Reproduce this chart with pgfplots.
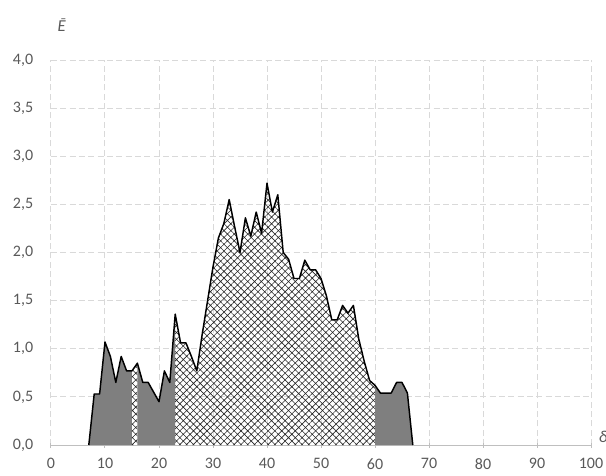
\documentclass[border=0pt]{standalone}
\usepackage{pgfplots}
\pgfplotsset{compat=1.18}
\usepackage{pgfplotstable}
\usepackage{fontspec}
\setmainfont{Carlito}
\usetikzlibrary{patterns.meta}
\definecolor{gridc}{HTML}{D9D9D9}
\definecolor{axisc}{HTML}{BFBFBF}
\definecolor{txt}{HTML}{595959}
\definecolor{fillg}{HTML}{7F7F7F}

\pgfplotstableread{
x y
7 0
8 0.53
9 0.53
10 1.07
11 0.92
12 0.65
13 0.92
14 0.77
15 0.77
16 0.85
17 0.65
18 0.65
19 0.55
20 0.45
21 0.77
22 0.65
23 1.36
24 1.06
25 1.06
26 0.92
27 0.77
28 1.15
29 1.5
30 1.85
31 2.15
32 2.3
33 2.55
34 2.27
35 2.0
36 2.36
37 2.17
38 2.42
39 2.2
40 2.72
41 2.42
42 2.6
43 2.0
44 1.93
45 1.73
46 1.73
47 1.92
48 1.82
49 1.82
50 1.73
51 1.55
52 1.3
53 1.3
54 1.45
55 1.37
56 1.45
57 1.1
58 0.87
59 0.67
60 0.62
61 0.54
62 0.54
63 0.54
64 0.65
65 0.65
66 0.54
67 0
}\data

\begin{document}
\begin{tikzpicture}
\useasboundingbox (-38.25pt,-22.5pt) rectangle (416.25pt,333.75pt);
\begin{axis}[
  scale only axis,
  width=405pt, height=288.75pt,
  xmin=0, xmax=100, ymin=0, ymax=4,
  xtick={0,10,...,100},
  ytick={0,0.5,...,4},
  axis x line=bottom, axis y line=left,
  x axis line style={axisc, -, line width=0.75pt},
  y axis line style={draw=none},
  grid=major,
  major grid style={gridc, dash pattern=on 4.5pt off 2.5pt, line width=0.75pt},
  x tick style={axisc, line width=0.75pt},
  y tick style={draw=none},
  tick align=center,
  major tick length=3.75pt,
  /pgf/number format/assume math mode=true,
  ticklabel style={font=\fontsize{12}{14}\selectfont, text=txt},
  y tick label style={/pgf/number format/use comma, /pgf/number format/fixed, /pgf/number format/fixed zerofill, /pgf/number format/precision=1, xshift=-8pt},
  x tick label style={yshift=-4.5pt},
  clip=false,
]
\addplot[fill=fillg, draw=none, restrict x to domain=7:15] table {\data} \closedcycle;
\addplot[pattern={Hatch[angle=45,distance=3.6pt,line width=0.45pt]}, pattern color=black!85, draw=none, restrict x to domain=15:16] table {\data} \closedcycle;
\addplot[fill=fillg, draw=none, restrict x to domain=16:23] table {\data} \closedcycle;
\addplot[pattern={Hatch[angle=45,distance=3.6pt,line width=0.45pt]}, pattern color=black!85, draw=none, restrict x to domain=23:60] table {\data} \closedcycle;
\addplot[fill=fillg, draw=none, restrict x to domain=60:67] table {\data} \closedcycle;
\addplot[black, line width=1.1pt, line join=round] table {\data};
\node[text=txt, font=\fontsize{12.5}{14}\selectfont\itshape] at (axis cs:2,4.36) {Ē};
\node[text=txt, font=\fontsize{12.5}{14}\selectfont\itshape, anchor=west] at (axis cs:100.6,0.08) {δ};
\end{axis}
\end{tikzpicture}
\end{document}
